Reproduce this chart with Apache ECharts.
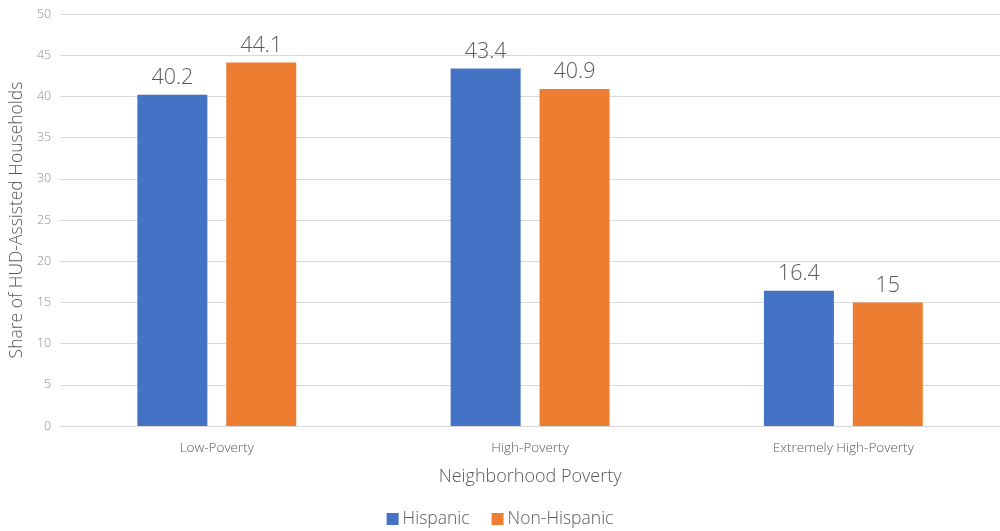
<!DOCTYPE html>
<html>
<head>
<meta charset="utf-8">
<script src="https://cdn.jsdelivr.net/npm/echarts@6/dist/echarts.min.js"></script>
<style>
  html, body { margin: 0; padding: 0; background: #fff; }
  #chart { width: 1000px; height: 531px; }
</style>
</head>
<body>
<div id="chart"></div>
<script>
// Share of HUD-assisted households by neighborhood poverty level
const categories = ['Low-Poverty', 'High-Poverty', 'Extremely High-Poverty'];
const hispanic = [40.2, 43.4, 16.4];
const nonHispanic = [44.1, 40.9, 15];
const seriesNames = ['Hispanic', 'Non-Hispanic'];

const FONT = '"Open Sans", "Noto Sans", sans-serif';
const chart = echarts.init(document.getElementById('chart'));

const labelStyle = {
  show: true,
  position: 'top',
  distance: 6,
  fontFamily: FONT,
  fontWeight: 300,
  fontSize: 21.5,
  color: '#595959'
};

chart.setOption({
  animation: false,
  textStyle: { fontFamily: FONT },
  grid: { left: 54, right: -4, top: 14, bottom: 105, containLabel: false },
  legend: {
    data: seriesNames,
    bottom: -2,
    left: 'center',
    itemWidth: 12,
    itemHeight: 12,
    itemGap: 22,
    icon: 'rect',
    textStyle: { fontFamily: FONT, fontWeight: 300, fontSize: 17.5, color: '#595959', padding: [0, 0, 0, -1] }
  },
  xAxis: {
    type: 'category',
    data: categories,
    name: 'Neighborhood Poverty',
    nameLocation: 'middle',
    nameGap: 42,
    nameTextStyle: { fontFamily: FONT, fontWeight: 300, fontSize: 18, color: '#595959' },
    axisLine: { show: true, lineStyle: { color: '#d9d9d9', width: 1 } },
    axisTick: { show: false },
    axisLabel: { margin: 15, fontFamily: FONT, fontWeight: 300, fontSize: 13.5, color: '#595959' }
  },
  yAxis: {
    type: 'value',
    min: 0,
    max: 50,
    interval: 5,
    name: 'Share of HUD-Assisted Households',
    nameLocation: 'middle',
    nameGap: 34,
    nameTextStyle: { fontFamily: FONT, fontWeight: 300, fontSize: 17.5, color: '#595959' },
    axisLine: { show: false },
    axisTick: { show: false },
    axisLabel: { margin: 9, fontFamily: FONT, fontWeight: 300, fontSize: 12.5, color: '#8c8c8c' },
    splitLine: { lineStyle: { color: '#d9d9d9', width: 1 } }
  },
  series: [
    {
      name: seriesNames[0],
      type: 'bar',
      data: hispanic,
      barWidth: 70,
      barGap: '27%',
      itemStyle: { color: '#4472c4' },
      label: labelStyle
    },
    {
      name: seriesNames[1],
      type: 'bar',
      data: nonHispanic,
      barWidth: 70,
      barGap: '27%',
      itemStyle: { color: '#ed7d31' },
      label: labelStyle
    }
  ]
});
</script>
</body>
</html>
